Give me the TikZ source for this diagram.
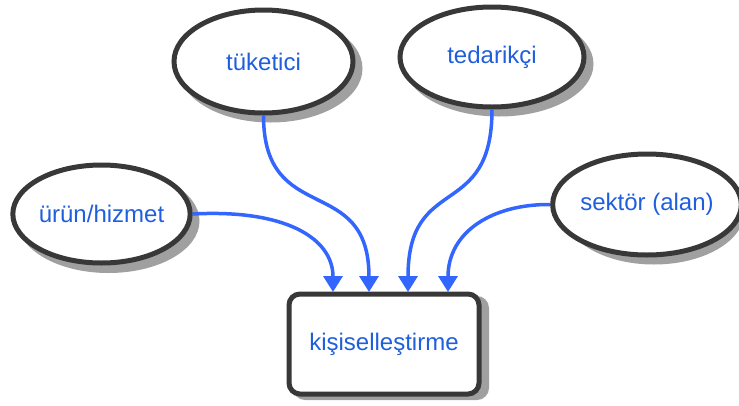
\documentclass[tikz,border=0pt]{standalone}
\usepackage{fontspec}
\setmainfont{Liberation Sans}
\usetikzlibrary{shapes.geometric,arrows.meta}
\definecolor{linkblue}{HTML}{3366FF}
\definecolor{textblue}{HTML}{1F5FDD}
\definecolor{rim}{HTML}{383838}
\definecolor{shadegray}{HTML}{A0A0A0}
\tikzset{
  dropshade/.style={fill=shadegray},
  topic/.style={ellipse,draw=rim,line width=5pt,fill=white,inner sep=0pt,
    text=textblue,font=\fontsize{24}{27}\selectfont},
  target/.style={rectangle,rounded corners=11pt,draw=rim,line width=5pt,fill=white,
    text=textblue,font=\fontsize{24}{27}\selectfont,
    minimum width=190pt,minimum height=100pt},
  link/.style={draw=linkblue,line width=3.5pt,-{Triangle[length=16pt,width=19pt]}}
}
\begin{document}
\begin{tikzpicture}
\useasboundingbox (0,0) rectangle (739pt,-405pt);

% drop shadows, offset down and to the right of each shape
\fill[dropshade] (108.5pt,-221pt) ellipse (91pt and 52pt);
\fill[dropshade] (270.5pt,-68.5pt) ellipse (92pt and 54pt);
\fill[dropshade] (499pt,-64pt) ellipse (94.5pt and 52.5pt);
\fill[dropshade] (654pt,-211.5pt) ellipse (90.5pt and 53pt);
\fill[dropshade] (293pt,-296pt) [rounded corners=12pt] rectangle (489pt,-400pt);

\node[topic,minimum width=173pt,minimum height=98pt] (u) at (101.5pt,-214pt) {ürün/hizmet};
\node[topic,minimum width=179pt,minimum height=103pt] (t) at (263.5pt,-61.5pt) {tüketici};
\node[topic,minimum width=184pt,minimum height=100pt] (d) at (492pt,-57pt) {tedarikçi};
\node[topic,minimum width=176pt,minimum height=101pt] (s) at (647pt,-204.5pt) {sektör (alan)};
\node[target] (k) at (384pt,-344pt) {kişiselleştirme};

\coordinate (k1) at (333pt,-292pt);
\coordinate (k2) at (369pt,-292pt);
\coordinate (k3) at (408pt,-292pt);
\coordinate (k4) at (448pt,-292pt);

\draw[link] (u.east) .. controls (285pt,-209pt) and (333pt,-238pt) .. (k1);
\draw[link] (t.south) .. controls (263.5pt,-228pt) and (369pt,-172pt) .. (k2);
\draw[link] (d.south) .. controls (492pt,-222pt) and (408pt,-172pt) .. (k3);
\draw[link] (s.west) .. controls (492pt,-204pt) and (448pt,-232pt) .. (k4);
\end{tikzpicture}
\end{document}
